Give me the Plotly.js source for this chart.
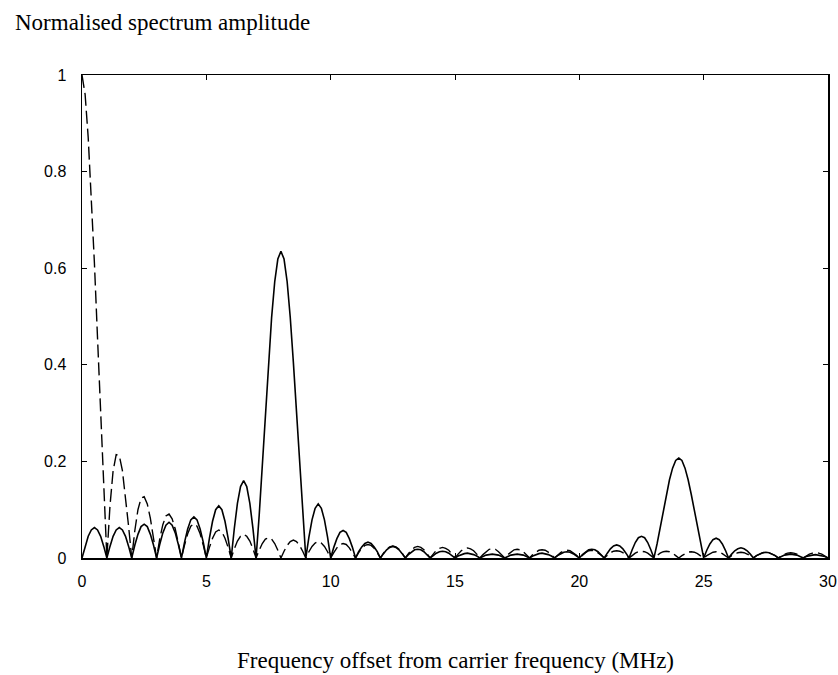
<!DOCTYPE html>
<html>
<head>
<meta charset="utf-8">
<script src="https://cdn.plot.ly/plotly-3.0.1.min.js"></script>
<style>
  html, body { margin: 0; padding: 0; background: #ffffff; }
  #chart { width: 838px; height: 675px; }
</style>
</head>
<body>
<div id="chart"></div>
<script>
// Frequency grid: samples every 0.125 MHz from 0 to 30 MHz (241 samples)
var freqStart = 0;
var freqStep = 0.125;

// Solid curve: modulated (offset-carrier) spectrum, one line per lobe
var solidAmp = [
  0, .024, .045, .058, .063, .058, .045, .024,   // 0-1
  0, .024, .045, .058, .063, .058, .045, .024,   // 1-2
  0, .027, .049, .065, .070, .065, .049, .027,   // 2-3
  0, .028, .052, .068, .074, .068, .052, .028,   // 3-4
  0, .033, .060, .079, .085, .079, .060, .033,   // 4-5
  0, .041, .076, .100, .108, .100, .076, .041,   // 5-6
  0, .061, .113, .148, .160, .148, .113, .061,   // 6-7
  0, .088, .191, .299, .405, .498, .572, .619,   // 7-8 main lobe
  .635, .619, .572, .498, .405, .299, .191, .088, // 8-9 main lobe
  0, .043, .079, .103, .112, .103, .079, .043,   // 9-10
  0, .022, .040, .053, .057, .053, .040, .022,   // 10-11
  0, .013, .023, .030, .033, .030, .023, .013,   // 11-12
  0, .009, .017, .022, .024, .022, .017, .009,   // 12-13
  0, .007, .013, .017, .018, .017, .013, .007,   // 13-14
  0, .005, .010, .013, .014, .013, .010, .005,   // 14-15
  0, .004, .007, .009, .010, .009, .007, .004,   // 15-16
  0, .003, .006, .007, .008, .007, .006, .003,   // 16-17
  0, .003, .006, .007, .008, .007, .006, .003,   // 17-18
  0, .004, .007, .009, .010, .009, .007, .004,   // 18-19
  0, .005, .009, .012, .013, .012, .009, .005,   // 19-20
  0, .007, .013, .017, .018, .017, .013, .007,   // 20-21
  0, .010, .019, .025, .027, .025, .019, .010,   // 21-22
  0, .017, .032, .042, .045, .042, .032, .017,   // 22-23
  0, .029, .062, .097, .132, .162, .186, .202,   // 23-24 main lobe
  .207, .202, .186, .162, .132, .097, .062, .029, // 24-25 main lobe
  0, .016, .029, .038, .041, .038, .029, .016,   // 25-26
  0, .008, .015, .019, .021, .019, .015, .008,   // 26-27
  0, .005, .008, .011, .012, .011, .008, .005,   // 27-28
  0, .003, .006, .007, .008, .007, .006, .003,   // 28-29
  0, .003, .005, .006, .007, .006, .005, .003,   // 29-30
  0
];

// Dashed curve: baseband spectrum, one line per lobe
var dashedAmp = [
  1, .960, .870, .750, .610, .455, .295, .139,   // 0-1
  0, .108, .180, .214, .212, .181, .129, .065,   // 1-2
  0, .057, .100, .124, .127, .112, .082, .042,   // 2-3
  0, .039, .069, .087, .091, .081, .060, .031,   // 3-4
  0, .027, .050, .066, .071, .066, .050, .027,   // 4-5
  0, .022, .041, .054, .058, .054, .041, .022,   // 5-6
  0, .019, .035, .045, .049, .045, .035, .019,   // 6-7
  0, .016, .030, .039, .042, .039, .030, .016,   // 7-8
  0, .014, .026, .034, .037, .034, .026, .014,   // 8-9
  0, .013, .024, .031, .034, .031, .024, .013,   // 9-10
  0, .011, .021, .028, .030, .028, .021, .011,   // 10-11
  0, .011, .020, .026, .028, .026, .020, .011,   // 11-12
  0, .010, .018, .023, .025, .023, .018, .010,   // 12-13
  0, .009, .017, .022, .024, .022, .017, .009,   // 13-14
  0, .008, .016, .020, .022, .020, .016, .008,   // 14-15
  0, .008, .015, .019, .021, .019, .015, .008,   // 15-16
  0, .007, .013, .018, .019, .018, .013, .007,   // 16-17
  0, .007, .013, .017, .018, .017, .013, .007,   // 17-18
  0, .007, .012, .016, .017, .016, .012, .007,   // 18-19
  0, .006, .011, .015, .016, .015, .011, .006,   // 19-20
  0, .006, .011, .015, .016, .015, .011, .006,   // 20-21
  0, .006, .011, .014, .015, .014, .011, .006,   // 21-22
  0, .005, .010, .013, .014, .013, .010, .005,   // 22-23
  0, .005, .010, .013, .014, .013, .010, .005,   // 23-24
  0, .005, .009, .012, .013, .012, .009, .005,   // 24-25
  0, .005, .009, .012, .013, .012, .009, .005,   // 25-26
  0, .005, .008, .011, .012, .011, .008, .005,   // 26-27
  0, .005, .008, .011, .012, .011, .008, .005,   // 27-28
  0, .004, .008, .010, .011, .010, .008, .004,   // 28-29
  0, .004, .008, .010, .011, .010, .008, .004,   // 29-30
  0
];

var xTickVals = [0, 5, 10, 15, 20, 25, 30];
var xTickText = ['0', '5', '10', '15', '20', '25', '30'];
var yTickVals = [0, 0.2, 0.4, 0.6, 0.8, 1];
var yTickText = ['0', '0.2', '0.4', '0.6', '0.8', '1'];

var yTitle = 'Normalised spectrum amplitude';
var xTitle = 'Frequency offset from carrier frequency (MHz)';

var traces = [
  {
    type: 'scatter', mode: 'lines',
    x0: freqStart, dx: freqStep, y: dashedAmp,
    line: { color: '#000000', width: 1.4, dash: '13px,5px' },
    hoverinfo: 'skip', showlegend: false
  },
  {
    type: 'scatter', mode: 'lines',
    x0: freqStart, dx: freqStep, y: solidAmp,
    line: { color: '#000000', width: 1.6 },
    hoverinfo: 'skip', showlegend: false
  }
];

var axisCommon = {
  showline: true, linecolor: '#000000', linewidth: 1.5,
  mirror: 'ticks', ticks: 'inside', ticklen: 5, tickwidth: 1, tickcolor: '#000000',
  showgrid: false, zeroline: false,
  tickfont: { family: 'Liberation Sans, Arial, sans-serif', size: 16, color: '#000000' }
};

var layout = {
  width: 838, height: 675,
  margin: { l: 82, r: 10, t: 75, b: 117 },
  paper_bgcolor: '#ffffff', plot_bgcolor: '#ffffff',
  showlegend: false,
  xaxis: Object.assign({}, axisCommon, {
    range: [0, 30], tickmode: 'array', tickvals: xTickVals, ticktext: xTickText,
    ticklabelstandoff: 8
  }),
  yaxis: Object.assign({}, axisCommon, {
    range: [0, 1], tickmode: 'array', tickvals: yTickVals, ticktext: yTickText,
    ticklabelstandoff: 11
  }),
  annotations: [
    {
      text: yTitle, xref: 'paper', yref: 'paper', x: 0, y: 1,
      xanchor: 'left', yanchor: 'middle', xshift: -69, yshift: 53, showarrow: false,
      font: { family: 'Liberation Serif, Times New Roman, serif', size: 23, color: '#000000' }
    },
    {
      text: xTitle, xref: 'paper', yref: 'paper', x: 0.5, y: 0,
      xanchor: 'center', yanchor: 'middle', yshift: -102, showarrow: false,
      font: { family: 'Liberation Serif, Times New Roman, serif', size: 23, color: '#000000' }
    }
  ]
};

Plotly.newPlot('chart', traces, layout, { staticPlot: true, displayModeBar: false });
</script>
</body>
</html>
